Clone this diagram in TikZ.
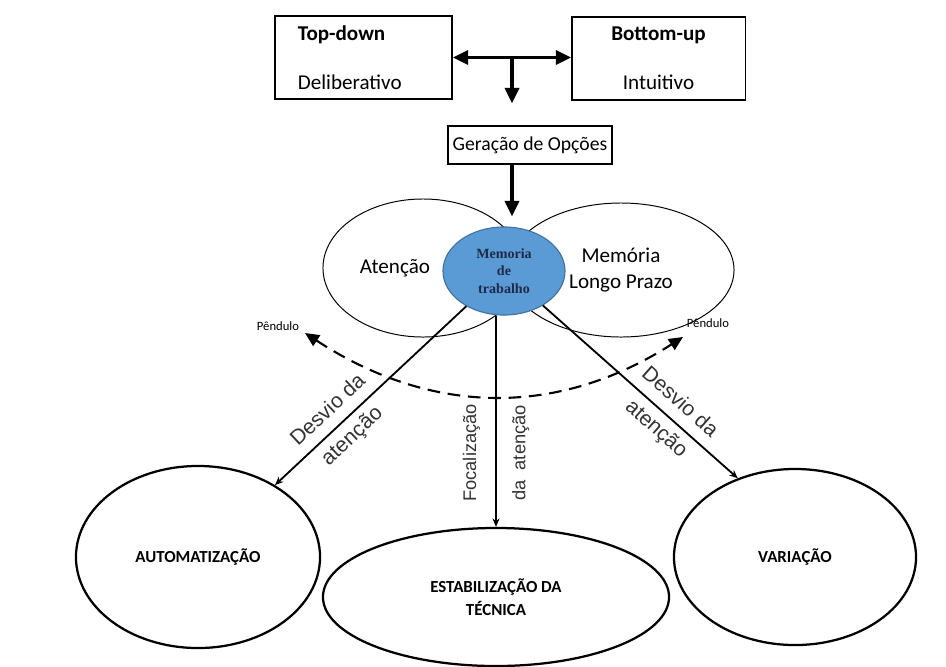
\documentclass[tikz,border=0pt]{standalone}
\usepackage{fontspec}
\setmainfont{Carlito}
\newfontfamily\labelfont{Liberation Sans}
\newfontfamily\wmfont{Liberation Serif}
\usetikzlibrary{arrows.meta, positioning, shapes.geometric, calc}

\definecolor{wmfill}{HTML}{5B9BD5}
\definecolor{wmdraw}{HTML}{41719C}
\definecolor{wmtext}{HTML}{1F2A48}

\begin{document}
\begin{tikzpicture}[
        x=0.025cm, y=-0.025cm,
        box/.style={rectangle, draw, line width=0.9pt, font=\fontsize{15}{18}\selectfont},
        thinell/.style={ellipse, draw, line width=0.7pt, inner sep=0pt, align=center,
                        font=\fontsize{15}{18}\selectfont},
        goal/.style={ellipse, draw, line width=1.6pt, inner sep=0pt, align=center,
                     font=\bfseries\fontsize{12}{16}\selectfont},
        bigarr/.style={line width=2.4pt, -{Triangle[length=11pt, width=10pt]}},
        link/.style={line width=1.3pt, -{Stealth[length=6pt, width=5pt]}},
        swing/.style={line width=1.5pt, dash pattern=on 9pt off 5.5pt,
                      {Triangle[length=10pt, width=9pt]}-{Triangle[length=10pt, width=9pt]}},
        along/.style={sloped, align=center, text=black!80,
                      font=\labelfont\fontsize{15}{18}\selectfont},
        pend/.style={font=\fontsize{9}{11}\selectfont, inner sep=1pt},
    ]
        \useasboundingbox (0,0) rectangle (946,666);

        % top boxes
        \node[box, minimum width=4.43cm, minimum height=2.08cm, align=left,
              text width=3.28cm, inner xsep=0.575cm] (td) at (363.5,57.5)
              {\textbf{Top-down}\\[16.8pt]Deliberativo};
        \node[box, minimum width=4.33cm, minimum height=2.08cm, align=center] (bu) at (658.5,58.5)
              {\textbf{Bottom-up}\\[16.8pt]Intuitivo};
        \node[box, minimum width=4.1cm, minimum height=0.95cm,
              font=\fontsize{14}{17}\selectfont] (gen) at (530,145) {Geração de Opções};

        \coordinate (j) at ($(td.east)!0.5!(bu.west)$);
        \draw[bigarr, {Triangle[length=11pt, width=10pt]}-{Triangle[length=11pt, width=10pt]}]
              (td.east) -- (td.east -| bu.west);
        \draw[bigarr, shorten >=0.55cm] (j) -- (gen.north -| j);

        % memory ellipses
        \node[thinell, minimum width=5cm, minimum height=3.45cm,
              label={[font=\fontsize{15}{18}\selectfont, xshift=-0.7cm]center:Atenção}] (att) at (423,268) {};
        \node[thinell, minimum width=5.65cm, minimum height=3.35cm] (ltm) at (621,270) {Memória\\Longo Prazo};
        \node[ellipse, draw=wmdraw, fill=wmfill, line width=0.8pt, minimum width=3.05cm,
              minimum height=2.2cm, inner sep=0pt, align=center, text=wmtext,
              font=\wmfont\bfseries\fontsize{10}{12.5}\selectfont] (mt) at (504,271)
              {Memoria\\de\\trabalho};

        \draw[bigarr, shorten >=0.25cm] (gen.south -| j) -- (mt.north -| j);

        % outcomes
        \node[goal, minimum width=6.1cm, minimum height=4.55cm] (auto) at (198,557) {AUTOMATIZAÇÃO};
        \node[goal, minimum width=8.65cm, minimum height=3.45cm] (estab) at (496,597) {ESTABILIZAÇÃO DA\\TÉCNICA};
        \node[goal, minimum width=6.05cm, minimum height=4.4cm] (var) at (795,557) {VARIAÇÃO};

        \draw[link] (mt) -- node[along, pos=0.657] {Desvio da\\[7pt]atenção} (auto);
        \draw[link] (mt) -- node[along, pos=0.64] {Desvio da\\[7pt]atenção} (var.126);
        \draw[link, line width=0.9pt] (mt.south -| estab.north) --
              node[along, sloped=false, rotate=90, pos=0.65, font=\labelfont\fontsize{13}{16}\selectfont]
              {Focalização\\[19pt]da\ \ atenção} (estab.north);

        % pendulum
        \coordinate (pl) at (305,333);
        \coordinate (pr) at (683,337);
        \node[pend] (pendl) at (278,326) {Pêndulo};
        \node[pend] (pendr) at (708,323) {Pêndulo};
        \draw[swing] (pl) .. controls (432,416) and (558,417) .. (pr);
    \end{tikzpicture}
\end{document}
